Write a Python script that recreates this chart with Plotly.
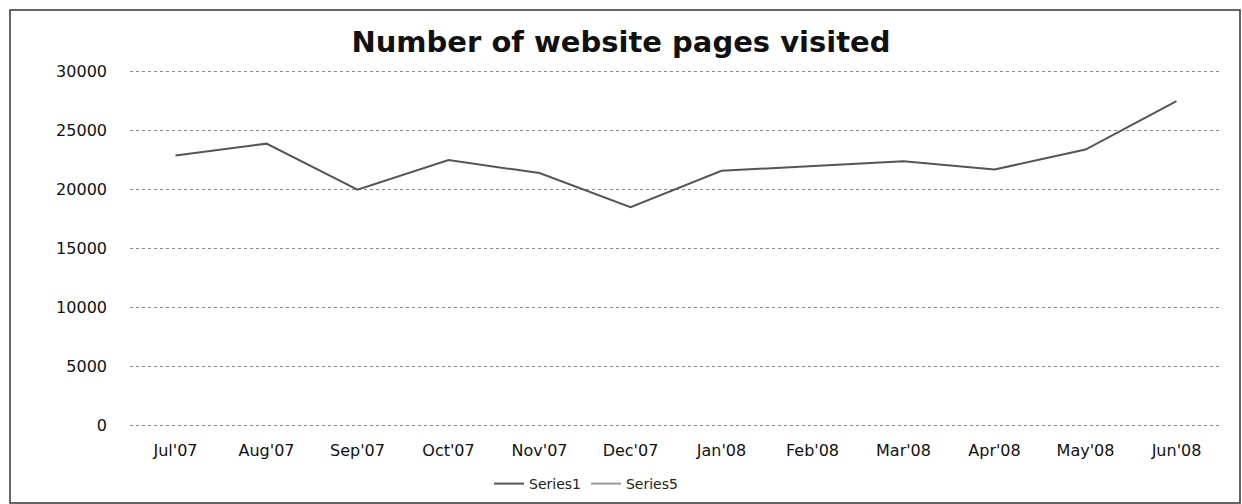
import plotly.graph_objects as go

months = ["Jul'07", "Aug'07", "Sep'07", "Oct'07", "Nov'07", "Dec'07",
          "Jan'08", "Feb'08", "Mar'08", "Apr'08", "May'08", "Jun'08"]
series1 = [22900, 23900, 20000, 22500, 21400, 18500,
           21600, 22000, 22400, 21700, 23400, 27500]
series5 = [None] * len(months)
y_ticks = [0, 5000, 10000, 15000, 20000, 25000, 30000]

fig = go.Figure()
fig.add_trace(go.Scatter(x=months, y=series1, mode="lines", name="Series1",
                         line=dict(color="#555555", width=2)))
fig.add_trace(go.Scatter(x=months, y=series5, mode="lines", name="Series5",
                         line=dict(color="#9a9a9a", width=2)))

L, R, T, B = 130, 20, 70, 77
W = 1242 - L - R
H = 504 - T - B

fig.update_layout(
    width=1242, height=504,
    margin=dict(l=L, r=R, t=T, b=B, autoexpand=False),
    paper_bgcolor="white", plot_bgcolor="white",
    title=dict(text="<b>Number of website pages visited</b>", x=0.5, xanchor="center",
               y=1 - 42 / 504, yref="container", yanchor="middle",
               font=dict(family="DejaVu Sans", size=29, color="#111111")),
    font=dict(family="DejaVu Sans", size=16, color="#111111"),
    showlegend=True,
    legend=dict(orientation="h", x=(586 - L) / W, xanchor="center",
                y=-(484 - (T + H)) / H, yanchor="middle",
                font=dict(size=14, color="#222222"), bgcolor="rgba(0,0,0,0)"),
    xaxis=dict(type="category", range=[-0.5, 11.5], showgrid=False, zeroline=False,
               showline=False, ticks="", tickfont=dict(size=16), automargin=False,
               ticklabelstandoff=12),
    yaxis=dict(range=[-150, 30150], tickvals=y_ticks, ticktext=[str(v) for v in y_ticks],
               showgrid=True, gridcolor="#8a8a8a", griddash="dot", gridwidth=1,
               zeroline=False, showline=False, ticks="", ticklen=0,
               tickfont=dict(size=16), automargin=False, ticklabelstandoff=22),
    shapes=[dict(type="rect", xref="paper", yref="paper",
                 x0=(10 - L) / W, x1=(1240 - L) / W,
                 y0=-(503 - (T + H)) / H, y1=1 + (T - 10) / H,
                 line=dict(color="#333333", width=1.5), fillcolor="rgba(0,0,0,0)")],
)

fig.write_html("out.html", config={"displayModeBar": False},
               post_script="document.body.style.margin='0px';document.body.style.overflow='hidden';")
